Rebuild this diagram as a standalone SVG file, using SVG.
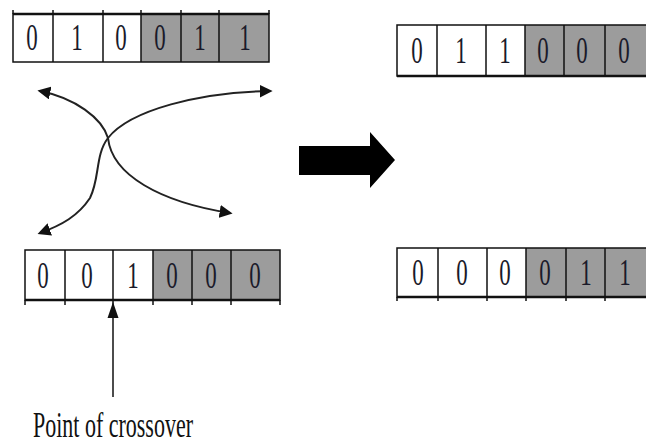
<svg xmlns="http://www.w3.org/2000/svg" width="646" height="446" viewBox="0 0 646 446">
<defs>
<style>
.w{fill:#fff}
.g{fill:#9c9c9c}
.ln{stroke:#111;stroke-width:1.5;fill:none}
.bl{stroke:#111;stroke-width:2.5;fill:none}
.d{font-family:"Liberation Serif",serif;font-size:37px;fill:#1a1a2a;text-anchor:middle}
.t{font-family:"Liberation Serif",serif;font-size:36px;fill:#111}
.cv{stroke:#222;stroke-width:2;fill:none}
</style>
<marker id="ah" viewBox="0 0 10 10" refX="8" refY="5" markerWidth="6.5" markerHeight="6.5" orient="auto-start-reverse" markerUnits="strokeWidth">
<path d="M0,0 L10,5 L0,10 z" fill="#111"/>
</marker>
</defs>
<rect width="646" height="446" fill="#fff"/>

<g id="parent1">
<rect class="w" x="13" y="14" width="128" height="48"/>
<rect class="g" x="141" y="14" width="128" height="48"/>
<rect class="ln" x="13" y="14" width="256" height="48"/>
<line class="bl" x1="13" y1="14" x2="269" y2="14"/>
<path class="ln" d="M53,10V62 M103,10V62 M141,10V62 M181,10V62 M219,10V62 M13,10V14 M269,10V14"/>
<text class="d" transform="translate(32,50) scale(0.62,1)">0</text>
<text class="d" transform="translate(77,50) scale(0.62,1)">1</text>
<text class="d" transform="translate(121,50) scale(0.62,1)">0</text>
<text class="d" transform="translate(160,50) scale(0.62,1)">0</text>
<text class="d" transform="translate(200,50) scale(0.62,1)">1</text>
<text class="d" transform="translate(245,50) scale(0.62,1)">1</text>
</g>

<g id="parent2">
<rect class="w" x="25" y="250" width="128" height="50"/>
<rect class="g" x="153" y="250" width="127" height="50"/>
<rect class="ln" x="25" y="250" width="255" height="50"/>
<line class="bl" x1="25" y1="300" x2="280" y2="300"/>
<path class="ln" d="M65,250V305 M113,250V305 M153,250V305 M192,250V305 M231,250V305 M25,300V305 M280,300V305"/>
<text class="d" transform="translate(43,288) scale(0.62,1)">0</text>
<text class="d" transform="translate(87,288) scale(0.62,1)">0</text>
<text class="d" transform="translate(133,288) scale(0.62,1)">1</text>
<text class="d" transform="translate(172,288) scale(0.62,1)">0</text>
<text class="d" transform="translate(211,288) scale(0.62,1)">0</text>
<text class="d" transform="translate(255,288) scale(0.62,1)">0</text>
</g>

<g id="child1">
<rect class="w" x="397" y="25" width="128" height="51"/>
<rect class="g" x="525" y="25" width="125" height="51"/>
<path class="ln" d="M650,25H397V76H650"/>
<line class="bl" x1="397" y1="76" x2="650" y2="76"/>
<path class="ln" d="M437,25V76 M486,25V76 M525,25V76 M564,25V76 M605,25V76"/>
<text class="d" transform="translate(417,63) scale(0.62,1)">0</text>
<text class="d" transform="translate(461,63) scale(0.62,1)">1</text>
<text class="d" transform="translate(505,63) scale(0.62,1)">1</text>
<text class="d" transform="translate(543,63) scale(0.62,1)">0</text>
<text class="d" transform="translate(582,63) scale(0.62,1)">0</text>
<text class="d" transform="translate(624,63) scale(0.62,1)">0</text>
</g>

<g id="child2">
<rect class="w" x="397" y="248" width="129" height="49"/>
<rect class="g" x="526" y="248" width="124" height="49"/>
<path class="ln" d="M650,248H397V297H650"/>
<line class="bl" x1="397" y1="297" x2="650" y2="297"/>
<path class="ln" d="M438,248V301 M487,248V301 M526,248V301 M566,248V301 M605,248V301 M397,297V301"/>
<text class="d" transform="translate(418,285) scale(0.62,1)">0</text>
<text class="d" transform="translate(462,285) scale(0.62,1)">0</text>
<text class="d" transform="translate(505,285) scale(0.62,1)">0</text>
<text class="d" transform="translate(545,285) scale(0.62,1)">0</text>
<text class="d" transform="translate(586,285) scale(0.62,1)">1</text>
<text class="d" transform="translate(625,285) scale(0.62,1)">1</text>
</g>

<g id="bigArrow">
<path d="M299,146 H370 V132 L395,160 L370,188 V175 H299 Z" fill="#000"/>
</g>

<g id="label">
<text class="t" x="33" y="437" textLength="160" lengthAdjust="spacingAndGlyphs">Point of crossover</text>
</g>

<g id="connectors">
<path class="cv" marker-start="url(#ah)" marker-end="url(#ah)" d="M40,91 C75,98 102,118 108,138 C112,175 160,202 230,213"/>
<path class="cv" marker-start="url(#ah)" marker-end="url(#ah)" d="M270,91 C200,92 130,110 108,138 C95,155 100,178 90,198 C78,216 62,225 40,233"/>
<path d="M113,397 V316" stroke="#111" stroke-width="1.5" fill="none"/>
<path d="M113,302 L107.5,318 L118.5,318 Z" fill="#111"/>
</g>
</svg>
